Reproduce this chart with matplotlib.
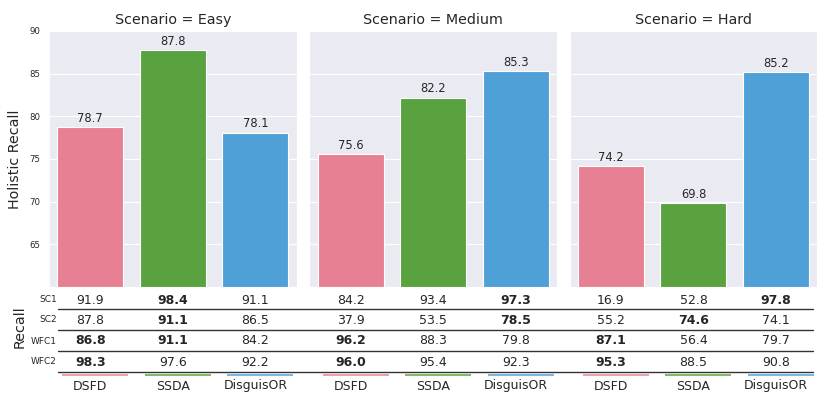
import matplotlib.pyplot as plt
import matplotlib.transforms as mtransforms
import seaborn as sns

sns.set_style("darkgrid")
plt.rcParams["font.family"] = ["DejaVu Sans"]
plt.rcParams["font.sans-serif"] = ["DejaVu Sans"]

# data
scenarios = ["Easy", "Medium", "Hard"]
methods = ["DSFD", "SSDA", "DisguisOR"]
colors = ["#e88093", "#59a23f", "#50a0d8"]
holistic = [
    [78.7, 87.8, 78.1],
    [75.6, 82.2, 85.3],
    [74.2, 69.8, 85.2],
]
row_names = ["SC1", "SC2", "WFC1", "WFC2"]
# recall[scenario][row][method]
recall = [
    [[91.9, 98.4, 91.1], [87.8, 91.1, 86.5], [86.8, 91.1, 84.2], [98.3, 97.6, 92.2]],
    [[84.2, 93.4, 97.3], [37.9, 53.5, 78.5], [96.2, 88.3, 79.8], [96.0, 95.4, 92.3]],
    [[16.9, 52.8, 97.8], [55.2, 74.6, 74.1], [87.1, 56.4, 79.7], [95.3, 88.5, 90.8]],
]
bold = [
    [[0, 1, 0], [0, 1, 0], [1, 1, 0], [1, 0, 0]],
    [[0, 0, 1], [0, 0, 1], [1, 0, 0], [1, 0, 0]],
    [[0, 0, 1], [0, 1, 0], [1, 0, 0], [1, 0, 0]],
]

W, H = 830, 393
fig = plt.figure(figsize=(8.3, 3.93), dpi=100)

lefts = [49, 309.3, 569.6]
ax_w = 247.7
top, bottom = 31, 287

row_y = [300, 320, 341, 362]
line_y = [309, 330, 351, 372]

for i, sc in enumerate(scenarios):
    ax = fig.add_axes([lefts[i] / W, 1 - bottom / H, ax_w / W, (bottom - top) / H])
    x = range(len(methods))
    bars = ax.bar(x, holistic[i], width=0.8, color=colors, edgecolor="white", linewidth=0.8)
    ax.bar_label(bars, fmt="%.1f", fontsize=8.3, padding=1.5, color="#262626")
    ax.set_xlim(-0.5, 2.5)
    ax.set_ylim(60, 90)
    ax.set_xticks([])
    ax.set_yticks([65, 70, 75, 80, 85, 90])
    ax.tick_params(axis="y", labelsize=6.2, length=0, pad=6.5)
    ax.set_title("Scenario = " + sc, fontsize=10.3, pad=5)
    if i == 0:
        ax.set_ylabel("Holistic Recall", fontsize=10.3, labelpad=5)
    else:
        ax.set_yticklabels([])

    # table under each panel
    trans = mtransforms.blended_transform_factory(ax.transData, fig.transFigure)
    for r in range(len(row_names)):
        for m in range(len(methods)):
            ax.text(m, 1 - row_y[r] / H, "%.1f" % recall[i][r][m], transform=trans,
                    ha="center", va="center", fontsize=9,
                    fontweight="bold" if bold[i][r][m] else "normal", color="#262626")
    for m in range(len(methods)):
        ax.plot([m - 0.34, m + 0.46], [1 - 375 / H] * 2, transform=trans, color=colors[m],
                alpha=0.75, lw=1.5, clip_on=False, solid_capstyle="butt")
        ax.text(m, 1 - 386 / H, methods[m], transform=trans, ha="center", va="center",
                fontsize=9, color="#262626")

# row labels and separators
for r, name in enumerate(row_names):
    fig.text(57 / W, 1 - row_y[r] / H, name, ha="right", va="center", fontsize=6.5, color="#262626")
for y in line_y:
    fig.add_artist(plt.Line2D([58 / W, 813 / W], [1 - y / H] * 2, color="#333333", lw=1))
fig.text(20 / W, 1 - 327 / H, "Recall", rotation=90, ha="center", va="center", fontsize=10.3,
         color="#262626")

fig.savefig("out.png", dpi=100)
